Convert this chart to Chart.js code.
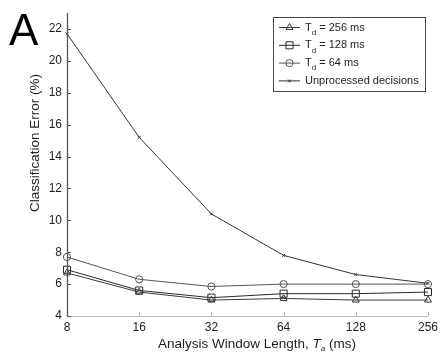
<!DOCTYPE html>
<html>
<head>
<meta charset="utf-8">
<script src="https://cdn.jsdelivr.net/npm/chart.js@4/dist/chart.umd.min.js"></script>
<style>
  html, body { margin: 0; padding: 0; background: #fff; }
  #wrap { position: relative; width: 442px; height: 352px; }
</style>
</head>
<body>
<div id="wrap"><canvas id="c" width="442" height="352"></canvas></div>
<script>
// Analysis window length T_a (ms), shown as equally spaced (log2) categories
const windowLengths = ['8', '16', '32', '64', '128', '256'];
const yTickValues = [4, 6, 8, 10, 12, 14, 16, 18, 20, 22];

// Classification error (%) per decision-smoothing window T_d
const errTd256 = [6.7, 5.5, 5.0, 5.1, 5.0, 5.0];
const errTd128 = [6.9, 5.6, 5.15, 5.4, 5.4, 5.5];
const errTd64 = [7.7, 6.3, 5.85, 6.0, 6.0, 6.0];
const errUnprocessed = [21.7, 15.2, 10.4, 7.8, 6.6, 6.05];

// Legend text: [main, subscript, rest]
const legendTexts = [
  ['T', 'd', ' = 256 ms'],
  ['T', 'd', ' = 128 ms'],
  ['T', 'd', ' = 64 ms'],
  ['Unprocessed decisions', '', '']
];

const FONT = '"Liberation Sans", Arial, Helvetica, sans-serif';
const TEXT = '#1e1e24';

function series(data, style, radius, color) {
  return {
    data,
    borderColor: color,
    borderWidth: 1,
    backgroundColor: 'rgba(255,255,255,0)',
    pointStyle: style,
    pointRadius: radius,
    pointBorderColor: color,
    pointBorderWidth: 1,
    pointBackgroundColor: 'rgba(255,255,255,0)',
    tension: 0,
    fill: false
  };
}

const datasets = [
  series(errTd256, 'triangle', 4, '#3a3a3a'),
  series(errTd128, 'rect', 5, '#2a2a2a'),
  series(errTd64, 'circle', 3.6, '#555555'),
  series(errUnprocessed, 'crossRot', 2, '#333333')
];

const decorations = {
  id: 'decorations',
  afterDraw(chart) {
    const ctx = chart.ctx;
    const area = chart.chartArea;
    const xs = chart.scales.x;
    const ys = chart.scales.y;

    ctx.save();
    // bottom axis with inward ticks
    ctx.strokeStyle = '#b8b8b8';
    ctx.lineWidth = 1;
    ctx.beginPath();
    ctx.moveTo(area.left, area.bottom + 0.5);
    ctx.lineTo(area.right, area.bottom + 0.5);
    windowLengths.forEach((_, i) => {
      const px = Math.round(xs.getPixelForValue(i)) + 0.5;
      ctx.moveTo(px, area.bottom);
      ctx.lineTo(px, area.bottom - 4);
    });
    ctx.stroke();

    // left axis with inward ticks
    ctx.strokeStyle = '#555';
    ctx.lineWidth = 1.3;
    ctx.beginPath();
    ctx.moveTo(area.left + 0.5, area.top);
    ctx.lineTo(area.left + 0.5, area.bottom + 1);
    ctx.stroke();
    ctx.lineWidth = 1;
    ctx.beginPath();
    yTickValues.forEach(v => {
      const py = Math.round(ys.getPixelForValue(v)) + 0.5;
      ctx.moveTo(area.left, py);
      ctx.lineTo(area.left + 4, py);
    });
    ctx.stroke();

    // panel letter
    ctx.fillStyle = '#000';
    ctx.font = '44px ' + FONT;
    ctx.textAlign = 'left';
    ctx.textBaseline = 'alphabetic';
    ctx.fillText('A', 9, 45);

    // y axis title
    ctx.save();
    ctx.translate(35.5, 143);
    ctx.rotate(-Math.PI / 2);
    ctx.fillStyle = TEXT;
    ctx.font = '13.5px ' + FONT;
    ctx.textAlign = 'center';
    ctx.textBaseline = 'middle';
    ctx.fillText('Classification Error (%)', 0, 0);
    ctx.restore();

    // x axis title with italic T and subscript a
    const parts = [
      { t: 'Analysis Window Length, ', f: '13.5px ' + FONT, dy: 0 },
      { t: 'T', f: 'italic 13.5px ' + FONT, dy: 0 },
      { t: 'a', f: 'italic 8px ' + FONT, dy: 2.5 },
      { t: ' (ms)', f: '13.5px ' + FONT, dy: 0 }
    ];
    let total = 0;
    parts.forEach(p => { ctx.font = p.f; p.w = ctx.measureText(p.t).width; total += p.w; });
    let x = 257 - total / 2;
    const base = 348;
    ctx.fillStyle = TEXT;
    ctx.textAlign = 'left';
    ctx.textBaseline = 'alphabetic';
    parts.forEach(p => { ctx.font = p.f; ctx.fillText(p.t, x, base + p.dy); x += p.w; });

    // legend box
    const bx = 273.5, by = 17.5, bw = 152, bh = 74;
    ctx.fillStyle = '#fff';
    ctx.fillRect(bx, by, bw, bh);
    ctx.strokeStyle = '#444';
    ctx.lineWidth = 1;
    ctx.strokeRect(bx, by, bw, bh);

    chart.data.datasets.forEach((ds, i) => {
      const cy = 27.5 + i * 17.8;
      ctx.strokeStyle = ds.borderColor;
      ctx.lineWidth = 1;
      ctx.beginPath();
      ctx.moveTo(279, cy);
      ctx.lineTo(300, cy);
      ctx.stroke();
      ctx.fillStyle = 'rgba(255,255,255,0)';
      Chart.helpers.drawPoint(ctx, {
        pointStyle: ds.pointStyle,
        radius: ds.pointRadius,
        rotation: 0,
        borderWidth: 1
      }, 289.5, cy);

      const [main, sub, rest] = legendTexts[i];
      ctx.fillStyle = TEXT;
      ctx.textBaseline = 'middle';
      let tx = 305;
      ctx.font = '11px ' + FONT;
      ctx.fillText(main, tx, cy);
      tx += ctx.measureText(main).width;
      if (sub) {
        ctx.font = '8px ' + FONT;
        ctx.fillText(sub, tx, cy + 5);
        tx += ctx.measureText(sub).width;
      }
      if (rest) {
        ctx.font = '11px ' + FONT;
        ctx.fillText(rest, tx, cy);
      }
    });
    ctx.restore();
  }
};

new Chart(document.getElementById('c'), {
  type: 'line',
  data: { labels: windowLengths, datasets },
  options: {
    responsive: false,
    animation: false,
    devicePixelRatio: 1,
    layout: { padding: { top: 13, right: 11, left: 0, bottom: 0 } },
    plugins: { legend: { display: false }, tooltip: { enabled: false } },
    scales: {
      x: {
        type: 'category',
        offset: false,
        grid: { display: false, drawTicks: false },
        border: { display: false },
        ticks: {
          color: TEXT,
          font: { family: FONT, size: 12 },
          padding: 4,
          maxRotation: 0,
          autoSkip: false
        },
        afterFit: s => { s.height = 36; }
      },
      y: {
        min: 4,
        max: 23,
        grid: { display: false, drawTicks: false },
        border: { display: false },
        afterBuildTicks: s => { s.ticks = yTickValues.map(v => ({ value: v })); },
        ticks: {
          color: TEXT,
          font: { family: FONT, size: 12 },
          padding: 5
        },
        afterFit: s => { s.width = 67; }
      }
    }
  },
  plugins: [decorations]
});
</script>
</body>
</html>
